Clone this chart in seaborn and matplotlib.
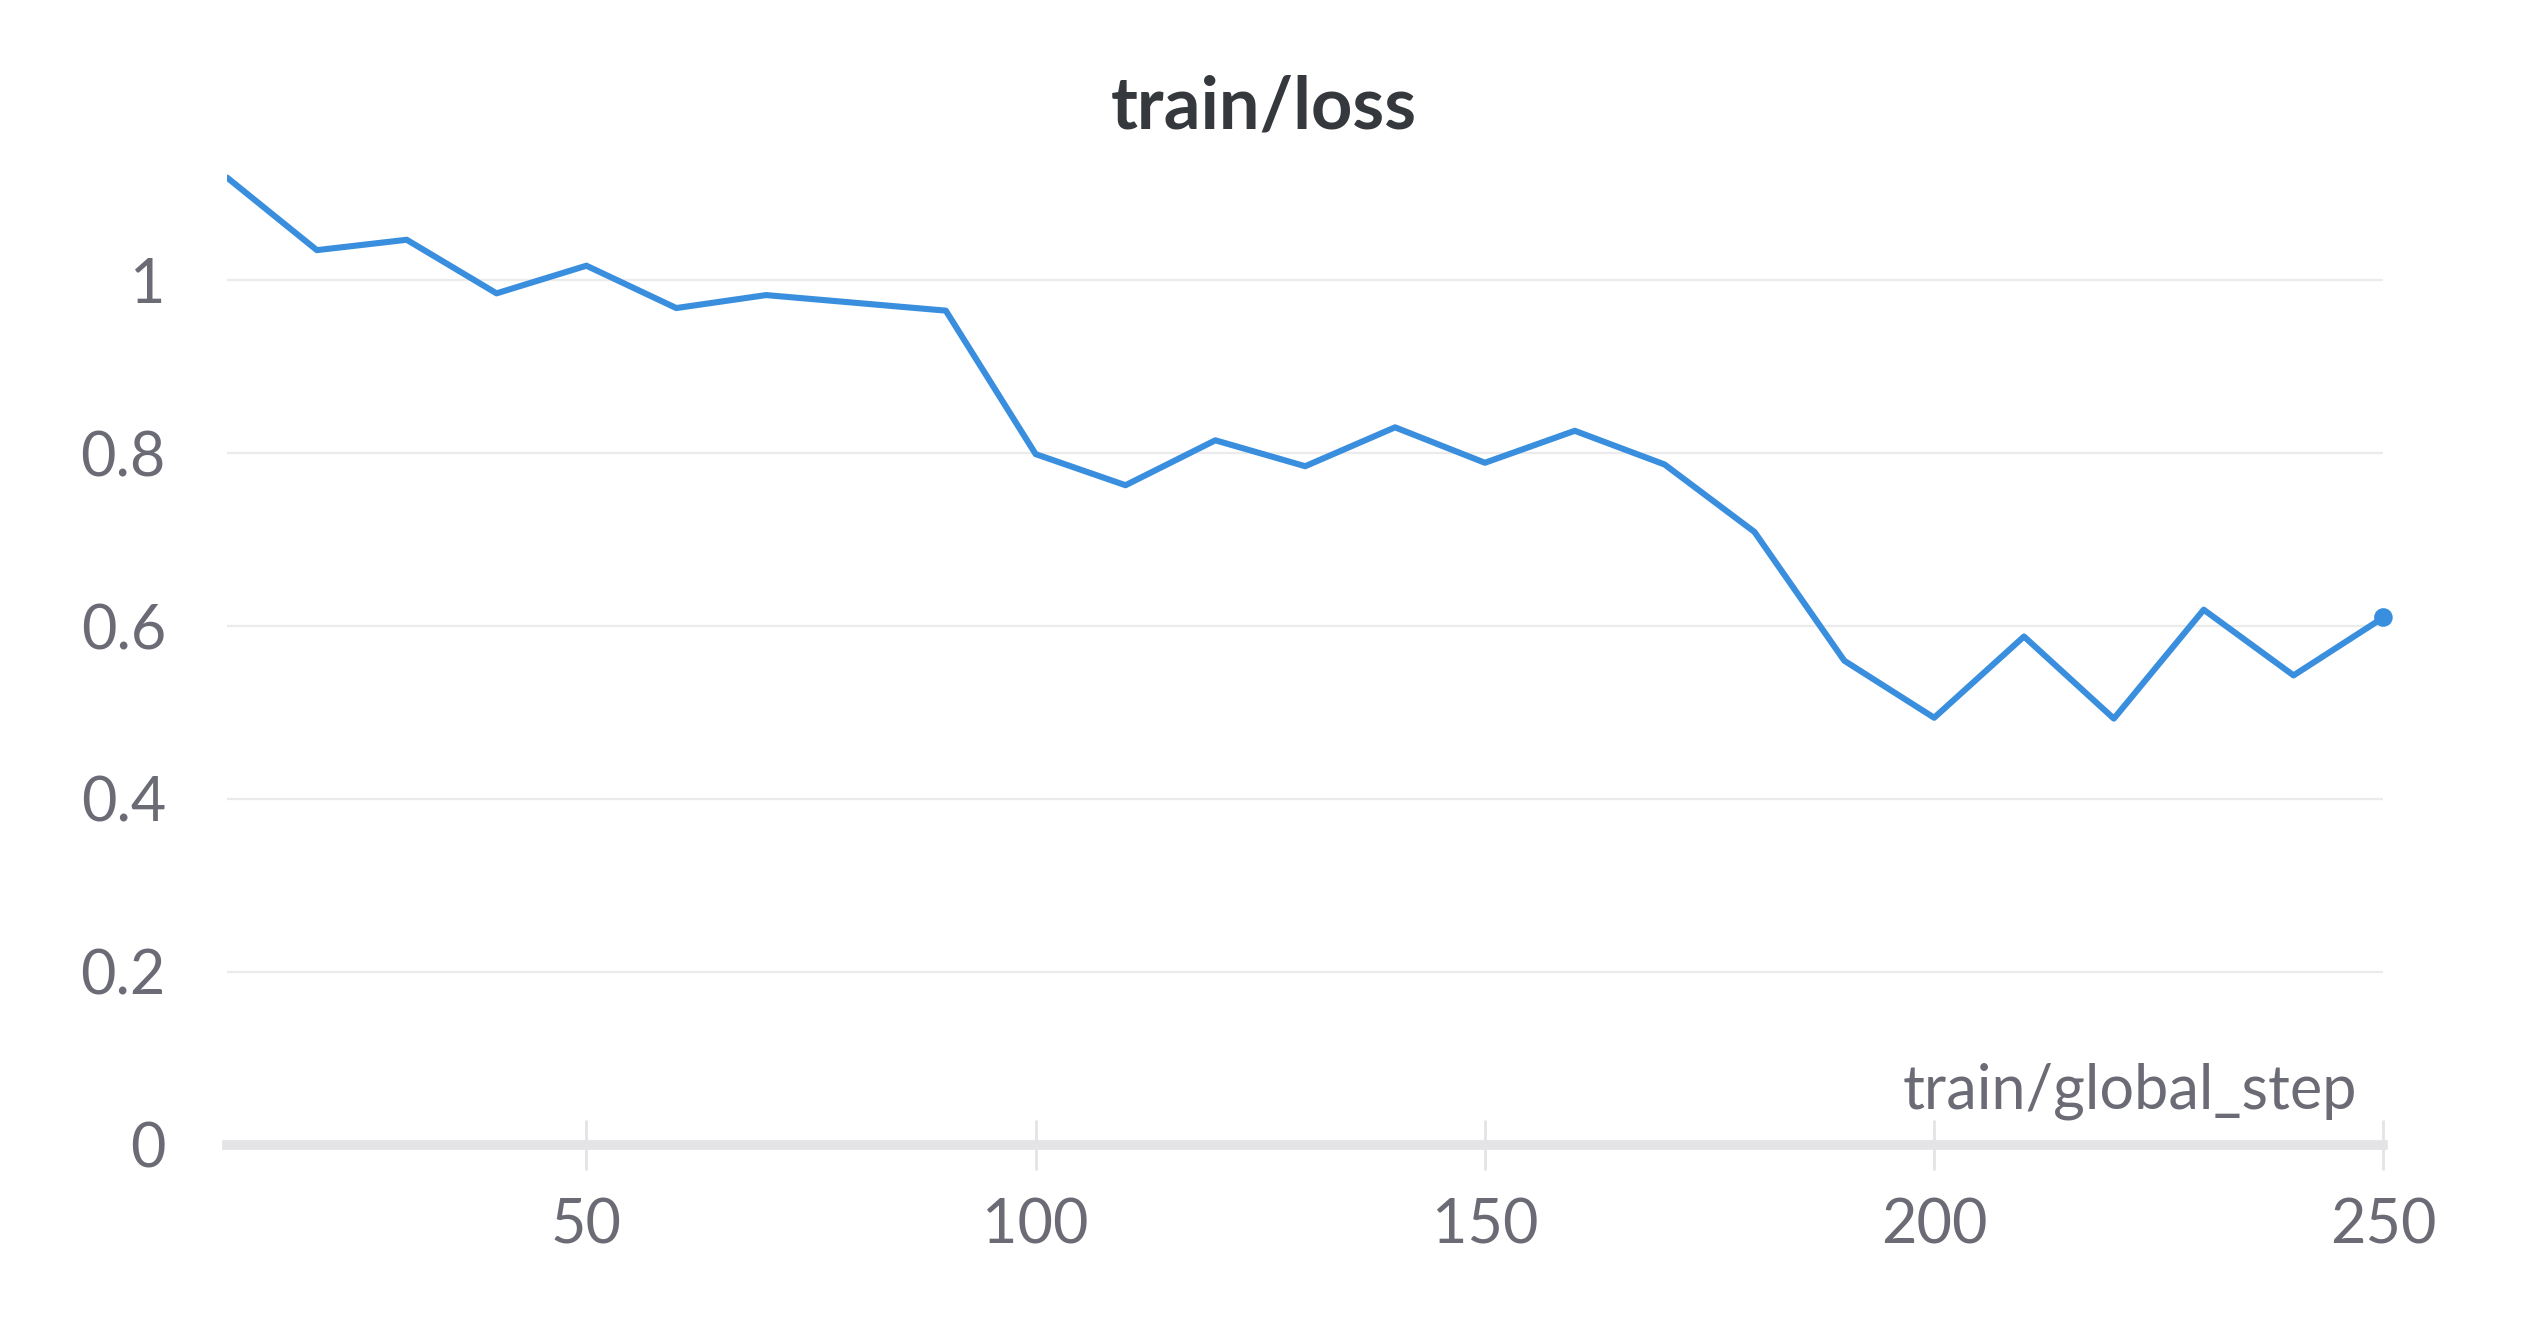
import numpy as np
import pandas as pd
import matplotlib
matplotlib.use("Agg")
import matplotlib.pyplot as plt
import seaborn as sns

# values
steps = [10, 20, 30, 40, 50, 60, 70, 80, 90, 100, 110, 120, 130,
         140, 150, 160, 170, 180, 190, 200, 210, 220, 230, 240, 250]
loss = [1.119, 1.035, 1.047, 0.985, 1.017, 0.968, 0.983, 0.974, 0.965,
        0.799, 0.763, 0.815, 0.785, 0.830, 0.789, 0.826, 0.787, 0.709,
        0.560, 0.494, 0.588, 0.493, 0.619, 0.543, 0.610]
xticks = [50, 100, 150, 200, 250]
yticks = [0, 0.2, 0.4, 0.6, 0.8, 1]

title = "train/loss"
xlabel = "train/global_step"


def main():
    sns.set_style("white")
    plt.rcParams['font.family'] = ['Lato', 'DejaVu Sans']

    df = pd.DataFrame({"step": steps, "loss": loss})
    line_color = "#3a8ede"
    grey = "#e4e4e6"
    text_grey = "#6b6b76"

    fig = plt.figure(figsize=(12.64, 6.64), dpi=200)
    ax = fig.add_axes([0.0898, 0.138, 0.853, 0.755])

    sns.lineplot(data=df, x="step", y="loss", color=line_color, linewidth=2.2, ax=ax)
    sns.scatterplot(data=df.tail(1), x="step", y="loss", color=line_color,
                    s=45, edgecolor="none", ax=ax, zorder=5, clip_on=False)

    ax.set_xlim(10, 250)
    ax.set_ylim(0, 1.16)
    ax.set_xticks(xticks)
    ax.set_yticks(yticks)
    ax.set_yticklabels(["%g" % v for v in yticks])

    # horizontal grid only
    ax.yaxis.grid(True, color="#ebebeb", linewidth=0.8)
    ax.xaxis.grid(False)
    for side in ["top", "right", "left"]:
        ax.spines[side].set_visible(False)
    ax.spines["bottom"].set_color(grey)
    ax.spines["bottom"].set_linewidth(3.5)
    ax.spines["bottom"].set_zorder(1)

    ax.tick_params(axis="x", bottom=True, direction="inout", length=18, width=1.0,
                   color=grey, labelsize=22, labelcolor=text_grey, pad=10)
    ax.tick_params(axis="y", left=False, length=0, labelsize=22,
                   labelcolor=text_grey, pad=22)

    ax.set_xlabel("")
    ax.set_ylabel("")
    ax.text(0.988, 0.025, xlabel, transform=ax.transAxes, ha="right", va="bottom",
            fontsize=22, color=text_grey)
    fig.text(0.5, 0.903, title, ha="center", va="baseline", fontsize=26,
             fontweight="bold", color="#35383c")

    fig.savefig("out.png", dpi=200)


if __name__ == '__main__':
    main()
